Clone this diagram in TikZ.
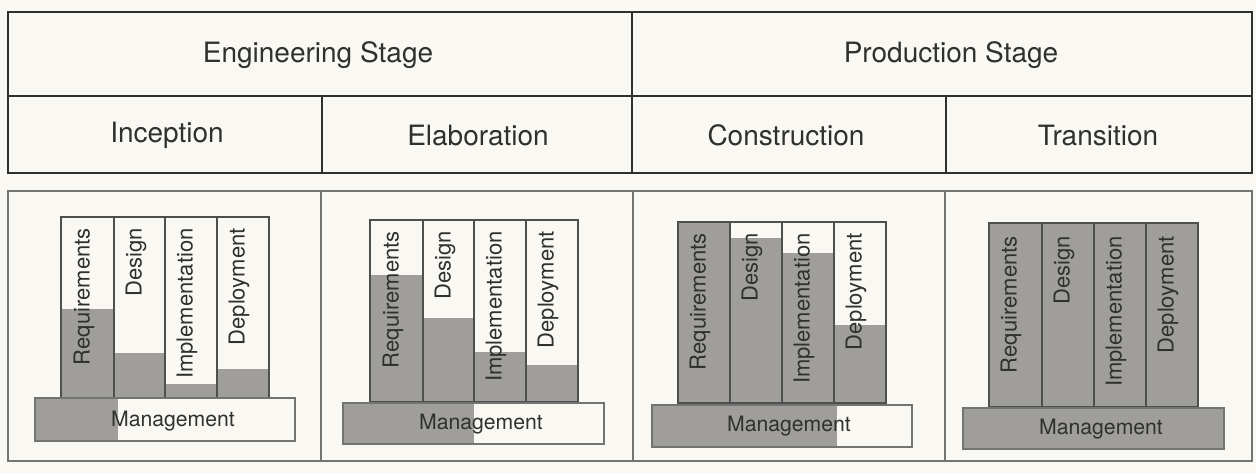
\documentclass[tikz,border=0pt]{standalone}
\usepackage{fontspec}
\setmainfont{TeX Gyre Heros}
\usepackage{xcolor}
\definecolor{Paper}{RGB}{250,248,242}
\definecolor{Ink}{RGB}{48,48,48}
\definecolor{Shade}{RGB}{160,158,155}
\definecolor{Rule}{RGB}{115,115,115}

\begin{document}
\begin{tikzpicture}[x=0.5pt, y=-0.5pt, color=Ink,
      every node/.append style={inner sep=0pt, text=Ink},
      stage/.style={font=\fontsize{14}{16}\selectfont},
      bar/.style={rotate=90, anchor=east, font=\fontsize{11}{13}\selectfont},
      mgmt/.style={font=\fontsize{10.6}{12}\selectfont},
      grid/.style={draw=Ink!85, line width=0.7pt},
      base/.style={draw=Rule, line width=0.55pt}]
  \tikzstyle{done} = [fill=Shade]
  \fill[Paper] (0,0) rectangle (1256,473);
  % heading table
  \draw[line width=1.25pt] (8,12) rectangle (1252,173);
  \draw[line width=1.25pt] (8,96) -- (1252,96);
  \draw[line width=1.1pt] (632,12) -- (632,173);
  \draw[line width=1.1pt] (322,96) -- (322,173) (946,96) -- (946,173);
  \node[stage] (engineering) at (318,55) {Engineering Stage};
  \node[stage] (production) at (951,55) {Production Stage};
  \node[stage] (inception) at (167,135) {Inception};
  \node[stage] (elaboration) at (478,135) {Elaboration};
  \node[stage] (construction) at (786,135) {Construction};
  \node[stage] (transition) at (1098,135) {Transition};
  % lower frame
  \draw[draw=Rule, line width=0.75pt] (8,191) rectangle (1252,461);
  \draw[draw=Rule, line width=0.75pt] (321,191) -- (321,461) (633,191) -- (633,461) (945,191) -- (945,461);
  % inception
  \fill[done] (61,309) rectangle (114,398) (114,353) rectangle (165,398)
              (165,384) rectangle (217,398) (217,369) rectangle (269,398);
  \draw[grid] (61,217) rectangle (269,398) (114,217) -- (114,398) (165,217) -- (165,398) (217,217) -- (217,398);
  \fill[done] (35,398) rectangle (118,441);
  \draw[base] (35,398) rectangle (295,441);
  \node[bar] (req1) at (84,228) {Requirements};
  \node[bar] (des1) at (136,228) {Design};
  \node[bar] (imp1) at (187,228) {Implementation};
  \node[bar] (dep1) at (239,228) {Deployment};
  \node[mgmt] (man1) at (173,421) {Management};
  % elaboration
  \fill[done] (370,275) rectangle (423,402) (423,318) rectangle (474,402)
              (474,352) rectangle (526,402) (526,365) rectangle (578,402);
  \draw[grid] (370,220) rectangle (578,402) (423,220) -- (423,402) (474,220) -- (474,402) (526,220) -- (526,402);
  \fill[done] (343,403) rectangle (474,444);
  \draw[base] (343,403) rectangle (604,444);
  \node[bar] (req2) at (393,231) {Requirements};
  \node[bar] (des2) at (445,231) {Design};
  \node[bar] (imp2) at (496,231) {Implementation};
  \node[bar] (dep2) at (548,231) {Deployment};
  \node[mgmt] (man2) at (481,424) {Management};
  % construction
  \fill[done] (678,222) rectangle (730,403) (730,238) rectangle (782,403)
              (782,253) rectangle (834,403) (834,325) rectangle (886,403);
  \draw[grid] (678,222) rectangle (886,403) (730,222) -- (730,403) (782,222) -- (782,403) (834,222) -- (834,403);
  \fill[done] (652,405) rectangle (837,447);
  \draw[base] (652,405) rectangle (912,447);
  \node[bar] (req3) at (700,233) {Requirements};
  \node[bar] (des3) at (752,233) {Design};
  \node[bar] (imp3) at (804,233) {Implementation};
  \node[bar] (dep3) at (856,233) {Deployment};
  \node[mgmt] (man3) at (789,426) {Management};
  % transition
  \fill[done] (989,223) rectangle (1198,407);
  \draw[grid] (989,223) rectangle (1198,407) (1042,223) -- (1042,407) (1094,223) -- (1094,407) (1146,223) -- (1146,407);
  \fill[done] (963,408) rectangle (1224,449);
  \draw[base] (963,408) rectangle (1224,449);
  \node[bar] (req4) at (1011,236) {Requirements};
  \node[bar] (des4) at (1064,236) {Design};
  \node[bar] (imp4) at (1116,236) {Implementation};
  \node[bar] (dep4) at (1168,236) {Deployment};
  \node[mgmt] (man4) at (1101,429) {Management};
\end{tikzpicture}
\end{document}
